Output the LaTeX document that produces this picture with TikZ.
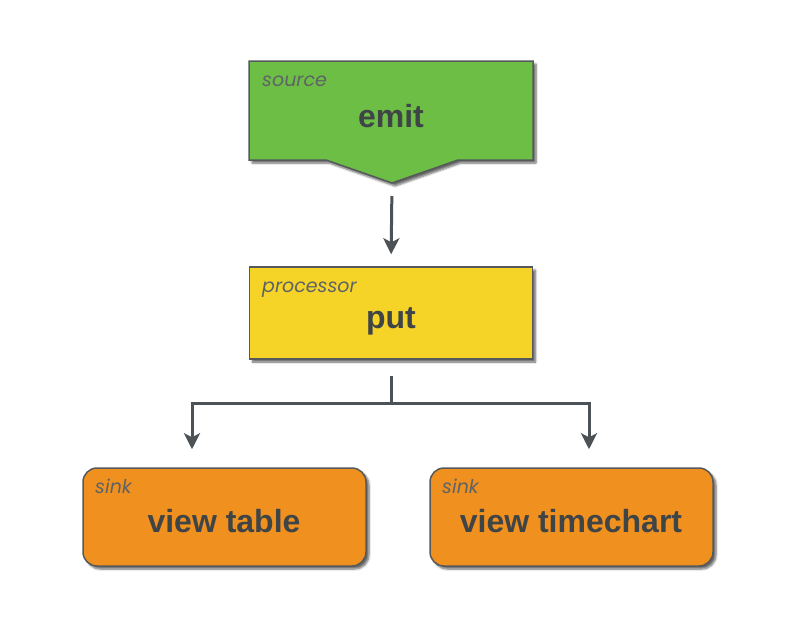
\documentclass[tikz,border=0pt]{standalone}
\usepackage{fontspec}
\setmainfont{Liberation Sans}
\newfontfamily\labfont{Poppins}
\usetikzlibrary{arrows.meta,shadows.blur}
\definecolor{srcgreen}{HTML}{6DBE45}
\definecolor{procyellow}{HTML}{F5D327}
\definecolor{sinkorange}{HTML}{F0901E}
\definecolor{edgegray}{HTML}{55595C}
\definecolor{textgray}{HTML}{3F4447}
\definecolor{labgray}{HTML}{5E6367}
\definecolor{linegray}{HTML}{4D5257}
\begin{document}
\begin{tikzpicture}[x=1pt,y=-1pt,
  boxshadow/.style={blur shadow={shadow xshift=3pt,shadow yshift=-3pt,shadow blur steps=6,shadow opacity=60}},
  boxline/.style={draw=edgegray,line width=1.5pt},
  procbox/.style={boxline,boxshadow,fill=procyellow,minimum width=283pt,minimum height=92pt,inner sep=0pt},
  sinkbox/.style={boxline,boxshadow,fill=sinkorange,rounded corners=14pt,minimum width=283pt,minimum height=98pt,inner sep=0pt},
  maintext/.style={font=\fontsize{32}{36}\selectfont\bfseries,text=textgray,anchor=base,inner sep=0pt},
  labtext/.style={font=\labfont\itshape\fontsize{19}{21}\selectfont,text=labgray,anchor=base west,inner sep=0pt},
  conn/.style={draw=linegray,line width=3pt},
  arr/.style={conn,-{Stealth[length=16pt,width=16pt,inset=4pt]}}
]
\useasboundingbox (0,0) rectangle (798,632);
% source shape
\path[boxline,boxshadow,fill=srcgreen] (249,61) -- (533,61) -- (533,160) -- (458,160) -- (392,183) -- (326,160) -- (249,160) -- cycle;
\coordinate (srctip) at (392,183);
\node[maintext] (emit) at (391,127) {emit};
\node[labtext] (srclab) at (262,86) {source};
% processor
\node[procbox] (proc) at (391,313) {};
\node[maintext] (put) at (391,328) {put};
\node[labtext] (proclab) at (262,292) {processor};
% sinks
\node[sinkbox] (sinkA) at (224.5,517) {};
\node[sinkbox] (sinkB) at (571.5,517) {};
\node[maintext] (vt) at (224,532) {view table};
\node[maintext] (vtc) at (571,532) {view timechart};
\node[labtext] (labA) at (95,493) {sink};
\node[labtext] (labB) at (442,493) {sink};
% connectors
\draw[arr,shorten <=13pt,shorten >=12pt] (srctip) -- (proc.north);
\coordinate (fork) at (391,403);
\draw[conn,shorten <=16pt] (proc.south) -- (fork);
\draw[arr,shorten >=18pt] (fork) -| ([xshift=-32.5pt]sinkA.north);
\draw[arr,shorten >=18pt] (fork) -| ([xshift=17.5pt]sinkB.north);
\end{tikzpicture}
\end{document}
